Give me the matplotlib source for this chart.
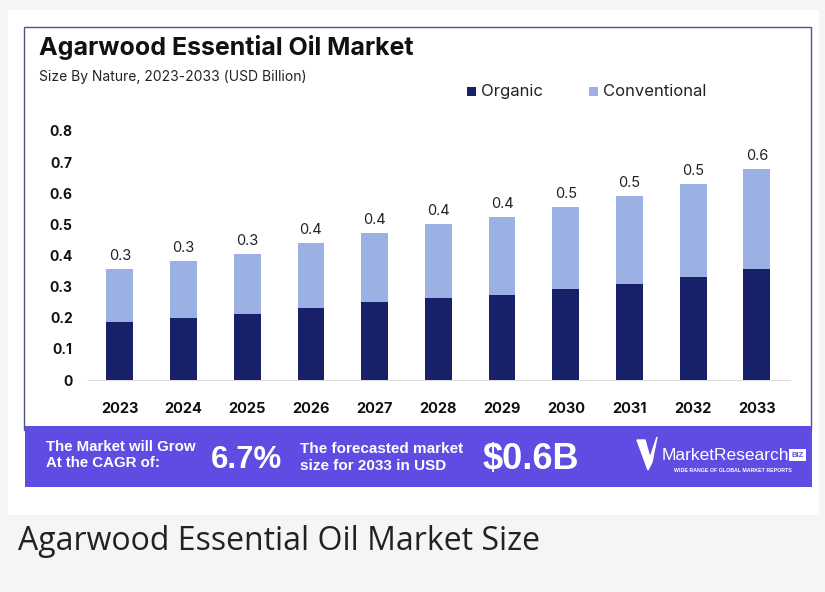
import matplotlib.pyplot as plt
from matplotlib.patches import Rectangle, Polygon

years = ['2023', '2024', '2025', '2026', '2027', '2028', '2029', '2030', '2031', '2032', '2033']
organic = [0.186, 0.199, 0.212, 0.232, 0.251, 0.264, 0.273, 0.293, 0.309, 0.331, 0.357]
conventional = [0.171, 0.184, 0.193, 0.208, 0.222, 0.238, 0.251, 0.263, 0.283, 0.299, 0.321]
bar_labels = ['0.3', '0.3', '0.3', '0.4', '0.4', '0.4', '0.4', '0.5', '0.5', '0.5', '0.6']
yticks = [0, 0.1, 0.2, 0.3, 0.4, 0.5, 0.6, 0.7, 0.8]
ytick_labels = ['0', '0.1', '0.2', '0.3', '0.4', '0.5', '0.6', '0.7', '0.8']

W, H = 825, 592
DARK = '#19206a'
LIGHT = '#9bb1e4'
PURPLE = '#5f4ce3'
FONT = ['Inter', 'DejaVu Sans']
NARROW = ['Liberation Sans Narrow', 'Liberation Sans', 'DejaVu Sans']


def fx(px):
    return px / W


def fy(py):
    return 1 - py / H


def rect(x0, y0, x1, y1, z=1, **kw):
    fig.patches.append(Rectangle((fx(x0), fy(y1)), fx(x1) - fx(x0), fy(y0) - fy(y1),
                                 transform=fig.transFigure, zorder=z, **kw))


fig = plt.figure(figsize=(W / 100, H / 100), dpi=100)
fig.patch.set_facecolor('#f5f5f5')

# white card and framed chart area
rect(8, 10, 819, 515, z=-2, facecolor='white', edgecolor='none')
rect(24, 27, 811, 430, z=-1, facecolor='white', edgecolor='#4d5584', linewidth=1.0)

ax = fig.add_axes([fx(88), fy(380), fx(790) - fx(88), fy(131) - fy(380)])
ax.set_zorder(5)
ax.set_facecolor('none')
x = list(range(len(years)))
ax.bar(x, organic, width=0.42, color=DARK, label='Organic', zorder=3)
ax.bar(x, conventional, width=0.42, bottom=organic, color=LIGHT, label='Conventional', zorder=3)
for i in x:
    ax.text(i, organic[i] + conventional[i] + 0.018, bar_labels[i], ha='center', va='bottom',
            fontsize=10.5, color='#222222', family=FONT)

ax.set_xlim(-0.5, 10.52)
ax.set_ylim(0, 0.8)
ax.set_xticks(x)
ax.set_xticklabels(years, fontsize=10.5, fontweight='bold', family=FONT, color='#111111')
ax.set_yticks(yticks)
ax.set_yticklabels(ytick_labels, fontsize=10, fontweight='bold', family=FONT, color='#111111')
ax.tick_params(axis='x', length=0, pad=16)
ax.tick_params(axis='y', length=0, pad=11)
for s in ['top', 'right', 'left']:
    ax.spines[s].set_visible(False)
ax.spines['bottom'].set_color('#dddddd')

# titles
fig.text(fx(39), fy(48), 'Agarwood Essential Oil Market', fontsize=18, fontweight='bold',
         family=FONT, color='#111111', va='center', ha='left')
fig.text(fx(39), fy(77), 'Size By Nature, 2023-2033 (USD Billion)', fontsize=10,
         family=FONT, color='#222222', va='center', ha='left')

# legend
rect(467, 87, 476, 96, facecolor=DARK, edgecolor='none')
fig.text(fx(481), fy(91.5), 'Organic', fontsize=12, family=FONT, color='#222222', va='center')
rect(589, 87, 598, 96, facecolor=LIGHT, edgecolor='none')
fig.text(fx(603), fy(91.5), 'Conventional', fontsize=12, family=FONT, color='#222222', va='center')

# banner
rect(25, 426, 812, 487, facecolor=PURPLE, edgecolor='none')
fig.text(fx(46), fy(447), 'The Market will Grow', fontsize=10.8, fontweight='bold', family=NARROW,
         color='white', va='center')
fig.text(fx(46), fy(463), 'At the CAGR of:', fontsize=10.8, fontweight='bold', family=NARROW,
         color='white', va='center')
fig.text(fx(211), fy(460), '6.7%', fontsize=22.5, fontweight='bold', family=NARROW,
         color='white', va='center')
fig.text(fx(300), fy(449), 'The forecasted market', fontsize=11, fontweight='bold', family=NARROW,
         color='white', va='center')
fig.text(fx(300), fy(466), 'size for 2033 in USD', fontsize=11, fontweight='bold', family=NARROW,
         color='white', va='center')
fig.text(fx(483), fy(460), '$0.6B', fontsize=26, fontweight='bold', family=NARROW,
         color='white', va='center')

# logo
fig.patches.append(Polygon([(fx(637), fy(440)), (fx(645), fy(440)), (fx(650), fy(458)),
                            (fx(657), fy(437)), (fx(652), fy(462)), (fx(648), fy(470))],
                           closed=True, transform=fig.transFigure, facecolor='white',
                           edgecolor='white', linewidth=1, zorder=2))
fig.text(fx(662), fy(455), 'MarketResearch', fontsize=12.5, family=NARROW, color='white',
         va='center')
rect(789, 449, 806, 461, z=2, facecolor='white', edgecolor='none')
fig.text(fx(797.5), fy(455.5), 'BIZ', fontsize=5.5, fontweight='bold', family=NARROW,
         color=PURPLE, va='center', ha='center', zorder=3)
fig.text(fx(733), fy(471), 'WIDE RANGE OF GLOBAL MARKET REPORTS', fontsize=3.8, fontweight='bold',
         family=NARROW, color='white', va='center', ha='center')

# caption
fig.text(fx(18), fy(541), 'Agarwood Essential Oil Market Size', fontsize=23,
         family=['Open Sans', 'DejaVu Sans'], color='#222222', va='center', ha='left')

fig.savefig('out.png', dpi=100, facecolor=fig.get_facecolor())
